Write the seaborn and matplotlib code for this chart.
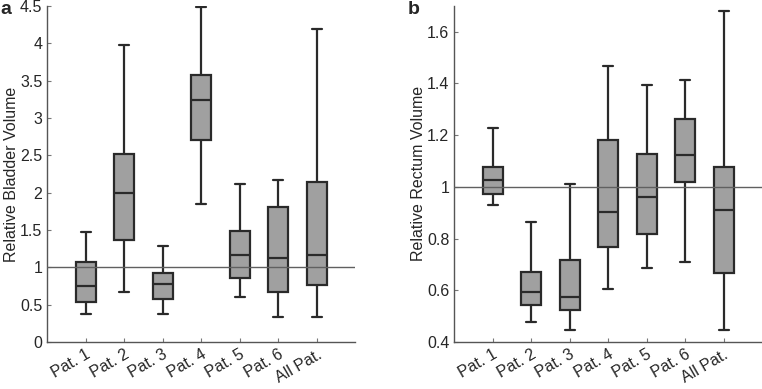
import numpy as np
import pandas as pd
import seaborn as sns
import matplotlib.pyplot as plt

patients = ['Pat. 1', 'Pat. 2', 'Pat. 3', 'Pat. 4', 'Pat. 5', 'Pat. 6', 'All Pat.']

# five-number summaries: low whisker, Q1, median, Q3, high whisker
bladder_low = [0.38, 0.67, 0.38, 1.85, 0.60, 0.34, 0.34]
bladder_q1 = [0.53, 1.37, 0.58, 2.71, 0.86, 0.67, 0.76]
bladder_med = [0.75, 1.99, 0.77, 3.24, 1.17, 1.13, 1.16]
bladder_q3 = [1.07, 2.52, 0.92, 3.57, 1.48, 1.81, 2.14]
bladder_high = [1.47, 3.97, 1.28, 4.48, 2.12, 2.17, 4.19]

rectum_low = [0.928, 0.478, 0.445, 0.604, 0.686, 0.710, 0.445]
rectum_q1 = [0.972, 0.542, 0.523, 0.768, 0.819, 1.019, 0.668]
rectum_med = [1.026, 0.595, 0.573, 0.901, 0.959, 1.122, 0.912]
rectum_q3 = [1.078, 0.672, 0.718, 1.181, 1.127, 1.262, 1.078]
rectum_high = [1.228, 0.863, 1.009, 1.467, 1.392, 1.414, 1.681]


def long_form(*cols):
    rows = []
    for i, p in enumerate(patients):
        for c in cols:
            rows.append({'Patient': p, 'Value': c[i]})
    return pd.DataFrame(rows)


bladder = long_form(bladder_low, bladder_q1, bladder_med, bladder_q3, bladder_high)
rectum = long_form(rectum_low, rectum_q1, rectum_med, rectum_q3, rectum_high)

sns.set_style('ticks')
plt.rcParams['font.family'] = ['Liberation Sans', 'DejaVu Sans']

fig = plt.figure(figsize=(7.62, 3.89), dpi=100)
ax1 = fig.add_axes([0.062, 0.121, 0.404, 0.864])
ax2 = fig.add_axes([0.596, 0.121, 0.404, 0.864])

panels = [(ax1, bladder, 'Relative Bladder Volume', (0, 4.5), np.arange(0, 4.51, 0.5), 'a', 0.0),
          (ax2, rectum, 'Relative Rectum Volume', (0.4, 1.7), np.arange(0.4, 1.61, 0.2), 'b', 0.535)]

for ax, data, ylabel, ylim, yticks, letter, lx in panels:
    sns.boxplot(data=data, x='Patient', y='Value', whis=np.inf, width=0.52,
                color='#a0a0a0', linecolor='#2a2a2a', linewidth=1.6, ax=ax)
    ax.axhline(1, color='#606060', lw=1, zorder=5)
    ax.set_xlim(-1, 7)
    ax.set_ylim(*ylim)
    ax.set_yticks(yticks)
    ax.set_yticklabels([f'{t:g}' for t in yticks], fontsize=11.5)
    ax.set_xlabel('')
    ax.set_ylabel(ylabel, fontsize=11.5, labelpad=1)
    ax.set_xticks(range(len(patients)))
    ax.set_xticklabels(patients, rotation=30, ha='right', rotation_mode='anchor', fontsize=11.5)
    for s in ['top', 'right']:
        ax.spines[s].set_visible(False)
    for s in ['left', 'bottom']:
        ax.spines[s].set_color('#555555')
        ax.spines[s].set_linewidth(1)
    ax.tick_params(direction='in', length=3, color='#777777', pad=3.5)
    fig.text(lx, 0.975, letter, fontsize=14, fontweight='bold', va='center')

fig.savefig('out.png', dpi=100)
